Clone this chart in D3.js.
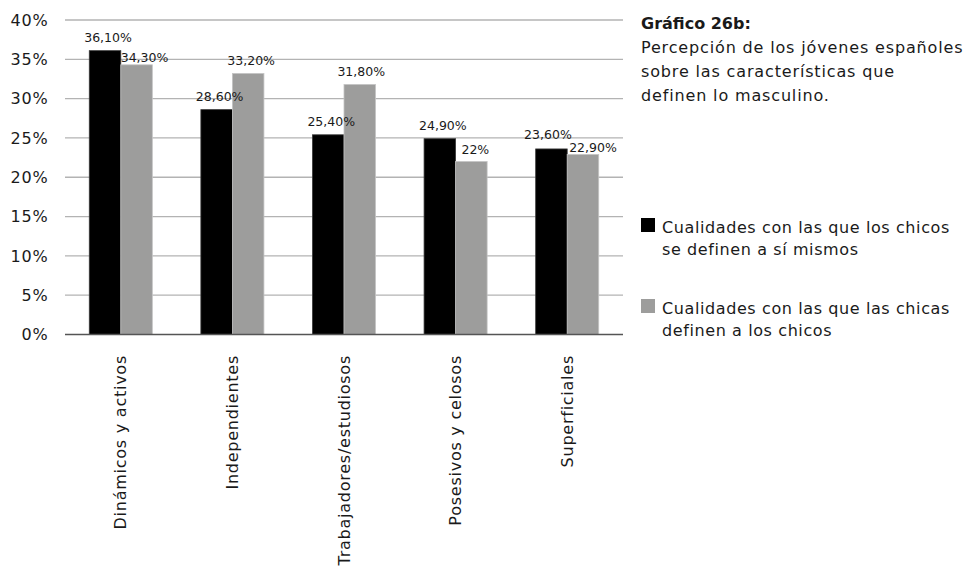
<!DOCTYPE html>
<html>
<head>
<meta charset="utf-8">
<script src="https://cdn.jsdelivr.net/npm/d3@7"></script>
<style>
  html, body { margin: 0; padding: 0; background: #fff; }
  svg { display: block; }
  text { font-family: "DejaVu Sans", "Open Sans", sans-serif; fill: #1a1a1a; }
</style>
</head>
<body>
<svg id="chart" width="970" height="570"></svg>
<script>
const categories = ["Dinámicos y activos", "Independientes", "Trabajadores/estudiosos", "Posesivos y celosos", "Superficiales"];
const chicos = [36.1, 28.6, 25.4, 24.9, 23.6];
const chicas = [34.3, 33.2, 31.8, 22.0, 22.9];
const chicosLabels = ["36,10%", "28,60%", "25,40%", "24,90%", "23,60%"];
const chicasLabels = ["34,30%", "33,20%", "31,80%", "22%", "22,90%"];
const yTickValues = [0, 5, 10, 15, 20, 25, 30, 35, 40];
const yTickLabels = ["0%", "5%", "10%", "15%", "20%", "25%", "30%", "35%", "40%"];
const seriesNames = [
  ["Cualidades con las que los chicos", "se definen a sí mismos"],
  ["Cualidades con las que las chicas", "definen a los chicos"]
];
const titleBold = "Gráfico 26b:";
const titleLines = ["Percepción de los jóvenes españoles", "sobre las características que", "definen lo masculino."];

const colors = ["#000000", "#9d9d9c"];
const strokes = ["#3a3a3a", "#c4c4c4"];
const FONT = "\"DejaVu Sans\", sans-serif";

const svg = d3.select("#chart");
const mLeft = 65, mRight = 623, mTop = 20, mBottom = 334.5;

const x = d3.scaleBand().domain(categories).range([mLeft, mRight]).paddingInner(0).paddingOuter(0);
const y = d3.scaleLinear().domain([0, 40]).range([mBottom, mTop]);

// gridlines
svg.append("g").selectAll("line").data(yTickValues.filter(v => v > 0)).join("line")
  .attr("x1", mLeft).attr("x2", mRight)
  .attr("y1", d => y(d)).attr("y2", d => y(d))
  .attr("stroke", "#b3b3b3").attr("stroke-width", 1.3);

// y tick labels
const yAxis = d3.axisLeft(y).tickValues(yTickValues).tickSize(0).tickPadding(0)
  .tickFormat((d, i) => yTickLabels[i]);
const yg = svg.append("g").attr("transform", `translate(48.5,0)`).call(yAxis);
yg.select(".domain").remove();
yg.selectAll("text").attr("font-size", 16).attr("fill", "#1a1a1a")
  .attr("letter-spacing", 0.8)
  .style("font-family", FONT);

// bars
const bw = x.bandwidth() * 0.2825;
const off = (x.bandwidth() - 2 * bw) / 2;
const series = [chicos, chicas];
const labels = [chicosLabels, chicasLabels];
// label nudges (dx, dy from bar top) to mimic the original placement
const nudges = [
  [[3, -8.5], [3, -8.5], [3, -8.5], [3, -8.5], [-3.5, -9.7]],
  [[8, -3], [3, -8.5], [1.5, -8], [4, -7.5], [10, -2.7]]
];

series.forEach((vals, s) => {
  const g = svg.append("g");
  g.selectAll("rect").data(vals).join("rect")
    .attr("x", (d, i) => x(categories[i]) + off + s * bw)
    .attr("y", d => y(d))
    .attr("width", bw)
    .attr("height", d => y(0) - y(d))
    .attr("fill", colors[s])
    .attr("stroke", strokes[s]).attr("stroke-width", 0.8);
});

series.forEach((vals, s) => {
  svg.append("g").selectAll("text").data(vals).join("text")
    .attr("x", (d, i) => x(categories[i]) + off + s * bw + bw / 2 + nudges[s][i][0])
    .attr("y", (d, i) => y(d) + nudges[s][i][1])
    .attr("text-anchor", "middle")
    .attr("font-size", 12.5)
    .attr("fill", "#222")
    .text((d, i) => labels[s][i]);
});

// baseline
svg.append("line").attr("x1", mLeft).attr("x2", mRight).attr("y1", y(0)).attr("y2", y(0))
  .attr("stroke", "#555").attr("stroke-width", 1.3);

// x category labels
const xAxis = d3.axisBottom(x).tickSize(0).tickPadding(0);
const xg = svg.append("g").attr("transform", `translate(0,${y(0)})`).call(xAxis);
xg.select(".domain").remove();
xg.selectAll("text")
  .attr("transform", "rotate(-90)")
  .attr("text-anchor", "end")
  .attr("x", -(355 - y(0)))
  .attr("y", 0)
  .attr("dy", "0.35em")
  .attr("font-size", 16)
  .attr("letter-spacing", 0.75)
  .attr("fill", "#1a1a1a")
  .style("font-family", FONT);

// title
const tx = 641;
svg.append("text").attr("x", tx).attr("y", 29).attr("font-size", 16).attr("font-weight", "bold").text(titleBold);
titleLines.forEach((t, i) => {
  svg.append("text").attr("x", tx).attr("y", 53 + i * 24).attr("font-size", 16)
    .attr("letter-spacing", 0.85).text(t);
});

// legend
const legY = [218, 299];
seriesNames.forEach((lines, s) => {
  svg.append("rect").attr("x", 641).attr("y", legY[s]).attr("width", 14).attr("height", 14).attr("fill", colors[s]);
  lines.forEach((t, j) => {
    svg.append("text").attr("x", 662).attr("y", legY[s] + 15 + j * 21.5).attr("font-size", 16)
      .attr("letter-spacing", 0.6).text(t);
  });
});
</script>
</body>
</html>
